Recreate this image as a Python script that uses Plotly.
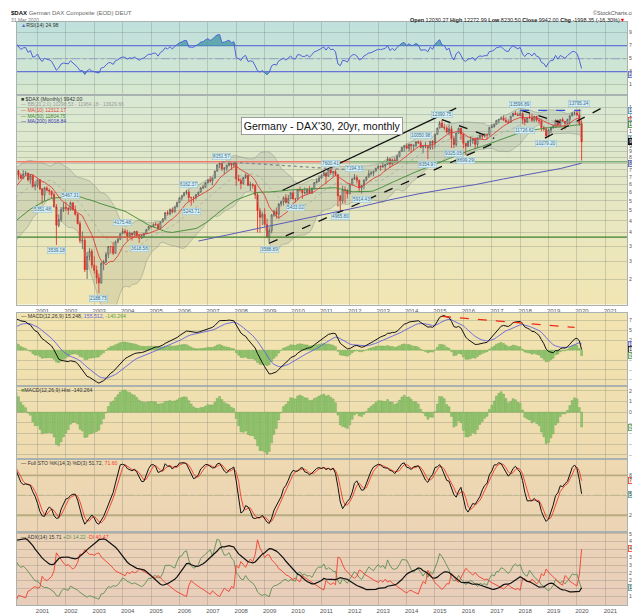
import numpy as np
import pandas as pd
import plotly.graph_objects as go
from plotly.subplots import make_subplots

# ---- $DAX monthly, Apr 2000 .. Mar 2020 (rounded) ----
first_month = "2000-04-01"
close = [
    7414.68, 7109.67, 6898.21, 7189.49, 7243.29, 6798.12, 7077.44, 6372.33, 6433.61,
    6795.14, 6208.24, 5829.95, 6264.51, 6123.38, 6058.38, 5861.19, 5188.21, 4308.15, 4559.13, 5039.86, 5160.10,
    5107.61, 5039.35, 5397.29, 5041.16, 4818.07, 4382.56, 3700.14, 3712.94, 2769.03, 3152.85, 3320.32, 2892.63,
    2747.83, 2547.05, 2423.87, 2942.04, 2982.68, 3220.58, 3487.86, 3484.58, 3256.78, 3655.99, 3745.95, 3965.16,
    4058.60, 4018.16, 3856.70, 3985.21, 3921.41, 4052.73, 3895.61, 3785.21, 3892.90, 3960.25, 4126.00, 4256.08,
    4254.85, 4350.49, 4348.77, 4184.84, 4460.63, 4586.28, 4886.50, 4829.69, 5044.12, 4929.07, 5193.40, 5408.26,
    5674.15, 5796.04, 5970.08, 6009.89, 5692.86, 5683.31, 5681.97, 5859.57, 6004.33, 6268.92, 6309.19, 6596.92,
    6789.11, 6715.44, 6917.03, 7408.87, 7883.04, 8007.32, 7584.14, 7638.17, 7861.51, 8019.22, 7870.52, 8067.32,
    6851.75, 6748.13, 6534.97, 6948.82, 7096.79, 6418.32, 6479.56, 6422.30, 5831.02, 4987.97, 4669.44, 4810.20,
    4338.35, 3843.74, 4084.76, 4769.45, 4940.82, 4808.64, 5332.14, 5464.61, 5675.16, 5414.96, 5625.95, 5957.43,
    5608.79, 5598.46, 6153.55, 6135.70, 5964.33, 5965.52, 6147.97, 5925.22, 6229.02, 6601.37, 6688.49, 6914.19,
    7077.48, 7272.32, 7041.31, 7514.46, 7293.69, 7376.24, 7158.77, 5784.85, 5502.02, 6141.34, 6088.84, 5898.35,
    6458.91, 6856.08, 6946.83, 6761.19, 6264.38, 6416.28, 6772.26, 6970.79, 7216.15, 7260.63, 7405.50, 7612.39,
    7776.05, 7741.70, 7795.31, 7913.71, 8348.84, 7959.22, 8275.97, 8103.15, 8594.40, 9033.92, 9405.30, 9552.16,
    9306.48, 9692.08, 9555.91, 9603.23, 9943.27, 9833.07, 9407.48, 9470.17, 9474.30, 9326.87, 9980.85, 9805.55,
    10694.32, 11401.66, 11966.17, 11454.38, 11413.82, 10944.97, 11308.99, 10259.46, 9660.44, 10850.14, 11382.23, 10743.01,
    9798.11, 9495.40, 9965.51, 10038.97, 10262.74, 9680.09, 10337.50, 10592.69, 10511.02, 10665.01, 10640.30, 11481.06,
    11535.31, 11834.41, 12312.87, 12438.01, 12615.06, 12325.12, 12118.25, 12055.84, 12828.86, 13229.57, 13023.98, 12917.64,
    13189.48, 12435.85, 12096.73, 12612.11, 12604.89, 12306.00, 12805.50, 12364.06, 12246.73, 11447.51, 11257.24, 10558.96,
    11173.10, 11515.64, 11526.04, 12344.08, 11726.84, 12398.80, 12189.04, 11939.28, 12428.08, 12866.79, 13236.38, 13249.01,
    12981.97, 11940.35, 9942.00,
]
high = [
    7800, 7500, 7250, 7480, 7430, 7320, 7190, 7180, 6700,
    6800, 6850, 6250, 6320, 6370, 6230, 6100, 5980, 5330, 4800, 5170, 5420,
    5440, 5160, 5467.31, 5420, 5250, 4840, 4490, 4050, 3800, 3300, 3430, 3400,
    3160, 2880, 2660, 2990, 3050, 3300, 3500, 3500, 3650, 3700, 3800, 3980,
    4175.48, 4160, 4120, 4050, 4000, 4070, 4080, 3920, 3920, 4000, 4140, 4270,
    4290, 4390, 4440, 4400, 4470, 4630, 4920, 5000, 5100, 5150, 5200, 5460,
    5690, 5810, 6000, 6140, 6162.37, 5730, 5760, 5880, 6020, 6290, 6440, 6630,
    6820, 7040, 6940, 7430, 7920, 8090, 8151.57, 7700, 7900, 8100, 8050, 8100,
    8100, 7150, 6900, 6960, 7230, 7130, 6660, 6560, 6480, 6000, 5120, 4940,
    5110, 4600, 4220, 4820, 5040, 5150, 5380, 5510, 5760, 5890, 5840, 6026.69,
    6094.75, 5660, 6200, 6340, 6160, 6290, 6250, 6390, 6300, 6630, 6900, 7100,
    7180, 7440, 7310, 7530, 7600.41, 7400, 7520, 7200, 5840, 6400, 6370, 6200,
    6550, 6900, 7194.33, 7100, 6800, 6440, 6800, 7040, 7480, 7440, 7420, 7670,
    7870, 7860, 8075, 7950, 8557.86, 8470, 8400, 8490, 8730, 9050, 9420, 9620,
    9790, 9730, 9720, 9650, 9950, 10050, 10050.98, 9550, 9890, 9500, 10000, 10090,
    10810, 11420, 12220, 12390.75, 11920, 11620, 11800, 11670, 10550, 10880, 11430, 11400,
    10750, 9810, 10100, 10480, 10330, 10380, 10380, 10750, 10690, 10830, 10810, 11490,
    11890, 11890, 12320, 12480, 12840, 12950, 12680, 12430, 12830, 13240, 13526, 13290,
    13596.89, 13340, 12600, 12650, 13200, 13170, 12860, 12880, 12470, 12390, 11640, 11500,
    11270, 11540, 11820, 12400, 12370, 12440, 12650, 12200, 12500, 12960, 13370, 13430,
    13640, 13795.24, 12272.99,
]
low = [
    7150, 6800, 6850, 6870, 7080, 6670, 6530, 6270, 6110,
    6280, 6120, 5351.48, 5500, 6050, 5830, 5650, 5150, 3539.18, 4230, 4460, 4920,
    4960, 4790, 5000, 4990, 4750, 4350, 3600, 3400, 2700, 2520, 3030, 2800,
    2660, 2400, 2188.75, 2400, 2750, 2950, 3100, 3250, 3200, 3250, 3600, 3730,
    3950, 3930, 3690, 3850, 3700, 3900, 3800, 3618.58, 3760, 3820, 3950, 4100,
    4180, 4230, 4280, 4150, 4170, 4430, 4560, 4750, 4760, 4850, 4900, 5150,
    5400, 5520, 5750, 5860, 5470, 5243.71, 5400, 5580, 5790, 5970, 6190, 6260,
    6530, 6600, 6437, 6880, 7380, 7630, 7420, 7190, 7400, 7760, 7500, 7700,
    6380, 6690, 6180, 6480, 6860, 6410, 6080, 6220, 5600, 4010, 4000, 4310,
    4260, 3800, 3588.89, 3980, 4690, 4600, 4580, 5200, 5250, 5370, 5300, 5600,
    5580, 5433.02, 5560, 6030, 5607.70, 5870, 5860, 5900, 5920, 6150, 6550, 6650,
    6850, 7050, 6500, 7000, 7150, 7000, 7050, 5190, 4965.80, 5350, 5370, 5630,
    5890, 6440, 6780, 6540, 6000, 5914.43, 6170, 6700, 6960, 7080, 7060, 7400,
    7600, 7420, 7660, 7420, 7880, 7655.88, 7840, 8060, 8080, 8540, 8980, 9000,
    9230, 9020, 8900, 9120, 9420, 9730, 9300, 8900, 9300, 8354.97, 9170, 9220,
    9380, 10650, 11400, 11420, 11160, 10800, 10600, 9338.20, 9325.05, 9470, 10760, 10120,
    9310, 8699.29, 9450, 9480, 9720, 9210, 9370, 10120, 10170, 10370, 10170, 10580,
    11380, 11460, 11800, 11940, 12380, 12320, 12070, 11870, 12000, 12800, 12980, 12860,
    12870, 11870, 11726.62, 12000, 12550, 12100, 12100, 12120, 11860, 11050, 11050, 10279.20,
    10390, 10860, 11300, 11500, 11620, 11640, 12100, 11266, 11850, 11780, 12830, 12930,
    12910, 11700, 8230.50,
]

# earlier months, only to warm up the indicators (not drawn)
warm_close = [  # Jan 1996 .. Mar 2000
    2403, 2400, 2486, 2473, 2502, 2544, 2452, 2484, 2586, 2658, 2746, 2889,
    3030, 3186, 3299, 3475, 3600, 3750, 4293, 3986, 4169, 3710, 3964, 4250,
    4442, 4710, 5096, 5107, 5568, 5897, 5902, 4834, 4475, 4671, 5016, 5002,
    5149, 4888, 4884, 5393, 5225, 5378, 5137, 5267, 5150, 5526, 6156, 6958,
    6836, 7645, 7599,
]
warm_high = [  # Jan 1998 .. Mar 2000
    4500, 4760, 5130, 5280, 5600, 5950, 6217, 5950, 5080, 4800, 5300, 5200,
    5290, 5190, 5060, 5460, 5450, 5500, 5500, 5400, 5480, 5560, 6200, 6990,
    7170, 7700, 8136,
]
warm_low = [
    4100, 4400, 4700, 4980, 5050, 5500, 5800, 4700, 3900, 3840, 4600, 4740,
    4790, 4740, 4650, 4880, 5120, 5100, 5080, 5020, 5030, 5060, 5480, 6050,
    6380, 6760, 7200,
]

# MA(200)
ma200_dates = ["2006-09-01", "2007-06-01", "2008-06-01", "2009-06-01", "2010-06-01", "2011-06-01",
               "2012-06-01", "2013-06-01", "2014-06-01", "2015-06-01", "2016-06-01", "2017-06-01",
               "2018-06-01", "2019-06-01", "2020-03-01"]
ma200_vals = [3680, 3850, 4100, 4330, 4600, 4880, 5200, 5560, 5900, 6200, 6470, 6850, 7200, 7600, 8018.84]

# annotated highs / lows
peak_labels = [
    ("2001-03-01", 5351.48, "lo"), ("2001-09-01", 3539.18, "lo"), ("2002-03-01", 5467.31, "hi"),
    ("2003-03-01", 2188.75, "lo"), ("2004-01-01", 4175.48, "hi"), ("2004-08-01", 3618.58, "lo"),
    ("2006-05-01", 6162.37, "hi"), ("2006-06-01", 5243.71, "lo"), ("2007-07-01", 8151.57, "hi"),
    ("2009-03-01", 3588.89, "lo"), ("2010-02-01", 5433.02, "lo"), ("2011-05-01", 7600.41, "hi"),
    ("2011-09-01", 4965.80, "lo"), ("2012-03-01", 7194.33, "hi"), ("2012-06-01", 5914.43, "lo"),
    ("2014-07-01", 10050.98, "hi"), ("2014-10-01", 8354.97, "lo"), ("2015-04-01", 12390.75, "hi"),
    ("2015-09-01", 9325.05, "lo"), ("2016-02-01", 8699.29, "lo"), ("2018-01-01", 13596.89, "hi"),
    ("2018-03-01", 11726.62, "lo"), ("2018-12-01", 10279.20, "lo"), ("2020-02-01", 13795.24, "hi"),
]

# hand drawn lines on the price panel: start, end, colour, dash
trend_lines = [
    ("2009-08-20", 6120, "2015-10-01", 13900, "#111111", "solid"),
    ("2009-03-01", 3600, "2017-02-01", 9800, "#111111", "dash"),
    ("2015-04-01", 12400, "2017-02-01", 10280, "#111111", "dash"),
    ("2018-01-15", 13600, "2019-06-01", 12050, "#111111", "dash"),
    ("2018-11-15", 10300, "2020-12-15", 14100, "#111111", "dash"),
    ("2018-01-01", 13600, "2020-02-15", 13600, "#3050e0", "dash"),
    ("2007-07-01", 8150, "2012-06-01", 7450, "#888888", "dot"),
]
resist_level = 8136
resist_split = "2012-01-01"
support_level = 3830
support_red = ("2002-07-01", "2004-09-01")
macd_trend = ("2015-04-01", 860, "2019-12-01", 580)

rsi_levels = [30, 50, 70]
sto_levels = [20, 50, 80]
price_ticks = [2500, 3000, 3500, 4000, 4500, 5000, 5500, 6000, 6500, 7000, 7500, 8000, 8500,
               9000, 9500, 10000, 11000, 12000, 13000, 14000]
years = list(range(2001, 2022))
x_range = ["2000-04-12", "2021-10-06"]

assert len(close) == len(high) == len(low) == 240

# ---- indicators ----
c_all = pd.Series(warm_close + close, dtype=float,
                  index=pd.date_range("1996-01-01", periods=len(warm_close) + len(close), freq="MS"))
hl_idx = pd.date_range("1998-01-01", periods=len(warm_high) + len(high), freq="MS")
h_all = pd.Series(warm_high + high, index=hl_idx, dtype=float)
l_all = pd.Series(warm_low + low, index=hl_idx, dtype=float)
c_hl = c_all[hl_idx]

ma10 = c_all.rolling(10).mean()
ma50 = c_all.rolling(50).mean()
bb_mid = c_all.rolling(20).mean()
bb_sd = c_all.rolling(20).std(ddof=0)
bb_up, bb_lo = bb_mid + 2 * bb_sd, bb_mid - 2 * bb_sd

d = c_all.diff()
gain = d.clip(lower=0).ewm(alpha=1 / 14, adjust=False).mean()
loss = (-d.clip(upper=0)).ewm(alpha=1 / 14, adjust=False).mean()
rsi = 100 - 100 / (1 + gain / loss)

macd = c_all.ewm(span=12, adjust=False).mean() - c_all.ewm(span=26, adjust=False).mean()
signal = macd.ewm(span=9, adjust=False).mean()
hist = macd - signal

ll = l_all.rolling(14).min()
hh = h_all.rolling(14).max()
sto_k = (100 * (c_hl - ll) / (hh - ll)).rolling(3).mean()
sto_d = sto_k.rolling(3).mean()

pc = c_hl.shift()
tr = pd.concat([h_all - l_all, (h_all - pc).abs(), (l_all - pc).abs()], axis=1).max(axis=1)
upm = h_all.diff()
dnm = -l_all.diff()
pdm = pd.Series(np.where((upm > dnm) & (upm > 0), upm, 0.0), index=hl_idx)
ndm = pd.Series(np.where((dnm > upm) & (dnm > 0), dnm, 0.0), index=hl_idx)
atr = tr.ewm(alpha=1 / 14, adjust=False).mean()
pdi = 100 * pdm.ewm(alpha=1 / 14, adjust=False).mean() / atr
ndi = 100 * ndm.ewm(alpha=1 / 14, adjust=False).mean() / atr
dx = 100 * (pdi - ndi).abs() / (pdi + ndi)
adx = dx.ewm(alpha=1 / 14, adjust=False).mean()

dates = pd.date_range(first_month, periods=len(close), freq="MS")
opn = c_all.shift(1)[dates]


def v(s):
    return s[dates].values


# ---- figure ----
fig = make_subplots(rows=6, cols=1, shared_xaxes=True, vertical_spacing=0)
FONT = "Liberation Sans, Arial, sans-serif"
GRID = "rgba(110,120,110,0.28)"
BORDER = "#a9b1b1"
domains = [(0.8757, 1.0), (0.5153, 0.8737), (0.3763, 0.5012),
           (0.2512, 0.3754), (0.1254, 0.2505), (0.0, 0.1246)]
backgrounds = [("#bfe0dc", "#d6e8cf"), ("#d9e8d3", "#f1e6b3"), ("#f2e4b1", "#f0e0af"),
               ("#f0e0b0", "#eedbb0"), ("#eed9b2", "#ecd4b4"), ("#ecd3b6", "#e9cdbb")]


def hex_rgb(h):
    h = h.lstrip("#")
    return [int(h[i:i + 2], 16) for i in (0, 2, 4)]


for (y0, y1), (top, bot) in zip(domains, backgrounds):
    a, b = hex_rgb(top), hex_rgb(bot)
    n = 20
    for i in range(n):
        f = i / (n - 1)
        col = "rgb({},{},{})".format(*[round(a[k] + (b[k] - a[k]) * f) for k in range(3)])
        ya = y1 - (y1 - y0) * i / n
        yb = y1 - (y1 - y0) * (i + 1) / n
        fig.add_shape(type="rect", xref="paper", yref="paper", x0=0, x1=1,
                      y0=max(y0, yb - 0.002), y1=ya, fillcolor=col, line_width=0, layer="below")

xe = [x_range[0], x_range[1]]

# RSI panel
for lv in rsi_levels:
    fig.add_trace(go.Scatter(x=xe, y=[lv, lv], mode="lines",
                             line=dict(color="#6676d6" if lv != 50 else "#97a0c8",
                                       width=1.3 if lv != 50 else 1,
                                       dash="solid" if lv != 50 else "dashdot")), row=1, col=1)
fig.add_trace(go.Scatter(x=dates, y=[70] * len(dates), mode="lines", line=dict(width=0)), row=1, col=1)
fig.add_trace(go.Scatter(x=dates, y=np.maximum(v(rsi), 70), mode="lines", line=dict(width=0),
                         fill="tonexty", fillcolor="rgba(60,150,160,0.75)"), row=1, col=1)
fig.add_trace(go.Scatter(x=dates, y=[30] * len(dates), mode="lines", line=dict(width=0)), row=1, col=1)
fig.add_trace(go.Scatter(x=dates, y=np.minimum(v(rsi), 30), mode="lines", line=dict(width=0),
                         fill="tonexty", fillcolor="rgba(60,150,160,0.75)"), row=1, col=1)
fig.add_trace(go.Scatter(x=dates, y=v(rsi), mode="lines", line=dict(color="#4f62d8", width=1)), row=1, col=1)

# price panel
fig.add_trace(go.Scatter(x=dates, y=v(bb_lo), mode="lines",
                         line=dict(color="rgba(140,150,140,0.7)", width=0.7)), row=2, col=1)
fig.add_trace(go.Scatter(x=dates, y=v(bb_up), mode="lines", fill="tonexty",
                         fillcolor="rgba(120,130,120,0.17)",
                         line=dict(color="rgba(140,150,140,0.7)", width=0.7)), row=2, col=1)
fig.add_trace(go.Scatter(x=dates, y=v(bb_mid), mode="lines",
                         line=dict(color="rgba(120,130,120,0.6)", width=0.6, dash="dot")), row=2, col=1)
fig.add_trace(go.Scatter(x=[x_range[0], resist_split], y=[resist_level] * 2, mode="lines",
                         line=dict(color="#f07a6c", width=1.6)), row=2, col=1)
fig.add_trace(go.Scatter(x=[resist_split, x_range[1]], y=[resist_level] * 2, mode="lines",
                         line=dict(color="#7fae78", width=1.6)), row=2, col=1)
fig.add_trace(go.Scatter(x=xe, y=[support_level] * 2, mode="lines",
                         line=dict(color="#3f7f2e", width=1.4)), row=2, col=1)
fig.add_trace(go.Scatter(x=list(support_red), y=[support_level] * 2, mode="lines",
                         line=dict(color="#f05a4c", width=1.2)), row=2, col=1)
fig.add_trace(go.Scatter(x=ma200_dates, y=ma200_vals, mode="lines",
                         line=dict(color="#5a5ab8", width=1)), row=2, col=1)
fig.add_trace(go.Scatter(x=dates, y=v(ma50), mode="lines", line=dict(color="#3e8a34", width=0.9)), row=2, col=1)
fig.add_trace(go.Scatter(x=dates, y=v(ma10), mode="lines", line=dict(color="#e0403a", width=0.9)), row=2, col=1)
for d0, v0, d1, v1, col, dash in trend_lines:
    fig.add_trace(go.Scatter(x=[d0, d1], y=[v0, v1], mode="lines",
                             line=dict(color=col, width=1.3, dash=dash)), row=2, col=1)
fig.add_trace(go.Candlestick(x=dates, open=opn.values, high=high, low=low, close=close,
                             whiskerwidth=0,
                             increasing=dict(line=dict(color="#555555", width=0.8),
                                             fillcolor="rgba(245,245,240,0.8)"),
                             decreasing=dict(line=dict(color="#e8221a", width=0.8),
                                             fillcolor="#e8221a")), row=2, col=1)

# MACD panel
fig.add_trace(go.Bar(x=dates, y=v(hist), marker=dict(color="#93c96f", line=dict(color="#62a048", width=0.4))),
              row=3, col=1)
fig.add_trace(go.Scatter(x=dates, y=v(signal), mode="lines", line=dict(color="#6464e0", width=0.9)), row=3, col=1)
fig.add_trace(go.Scatter(x=dates, y=v(macd), mode="lines", line=dict(color="#111111", width=1)), row=3, col=1)
fig.add_trace(go.Scatter(x=[macd_trend[0], macd_trend[2]], y=[macd_trend[1], macd_trend[3]], mode="lines",
                         line=dict(color="#ee2a1a", width=1.3, dash="dash")), row=3, col=1)

# MACD histogram panel
fig.add_trace(go.Bar(x=dates, y=v(hist), marker=dict(color="#93c96f", line=dict(color="#62a048", width=0.4))),
              row=4, col=1)

# Full STO panel
for lv in sto_levels:
    fig.add_trace(go.Scatter(x=xe, y=[lv, lv], mode="lines",
                             line=dict(color="#b7ab80" if lv != 50 else "#c2b68a",
                                       width=1.8 if lv != 50 else 1.2,
                                       dash="solid" if lv != 50 else "dashdot")), row=5, col=1)
fig.add_trace(go.Scatter(x=dates, y=v(sto_d), mode="lines", line=dict(color="#f03a2a", width=0.9)), row=5, col=1)
fig.add_trace(go.Scatter(x=dates, y=v(sto_k), mode="lines", line=dict(color="#111111", width=1)), row=5, col=1)

# ADX panel
fig.add_trace(go.Scatter(x=dates, y=v(pdi), mode="lines", line=dict(color="#5b8f55", width=0.9)), row=6, col=1)
fig.add_trace(go.Scatter(x=dates, y=v(ndi), mode="lines", line=dict(color="#f04030", width=0.9)), row=6, col=1)
fig.add_trace(go.Scatter(x=dates, y=v(adx), mode="lines", line=dict(color="#111111", width=1.2)), row=6, col=1)

# ---- axes ----
yaxes = [
    dict(range=[-5, 106.5], tickvals=[10, 30, 50, 70, 90]),
    dict(type="log", range=[3.29, 4.1976], tickvals=price_ticks),
    dict(range=[-900, 950], tickvals=[-750, -500, -250, 250, 500, 750]),
    dict(range=[-435, 245], tickvals=[-400, -300, -200, -100, 0, 100, 200]),
    dict(range=[-5, 104.5], tickvals=[20, 50, 80]),
    dict(range=[4.3, 51], tickvals=[10, 15, 20, 25, 30, 35, 40, 45, 50]),
]
for i, (ya, dom) in enumerate(zip(yaxes, domains), start=1):
    fig.update_yaxes(row=i, col=1, domain=list(dom), side="right", showgrid=True, gridcolor=GRID,
                     gridwidth=0.7, zeroline=False, showline=True, mirror=True, linecolor=BORDER,
                     linewidth=1, ticks="", tickfont=dict(size=5, color="#555", family=FONT), **ya)
    fig.update_xaxes(row=i, col=1, range=x_range, showgrid=True, gridcolor=GRID, gridwidth=0.7,
                     tickvals=[f"{y}-01-01" for y in years], ticktext=[str(y) for y in years],
                     showline=True, mirror=True, linecolor=BORDER, linewidth=1, ticks="",
                     rangeslider_visible=False, ticklabelshift=5,
                     tickfont=dict(size=6, color="#555", family=FONT))
fig.update_xaxes(row=2, col=1, showticklabels=True)


# ---- text ----
def py(p):
    return (604 - p) / 590


def px(p):
    return (p - 8) / 617


ann = []


def text(x, y, s, size=5.2, color="#333", xanchor="left", **kw):
    ann.append(dict(x=x, y=y, xref="paper", yref="paper", text=s, showarrow=False, xanchor=xanchor,
                    yanchor="middle", font=dict(size=size, color=color, family=FONT), **kw))


text(px(0), py(5), "<b>$DAX</b> <span style='color:#666'>German DAX Composite (EOD) DEUT</span>", size=6, color="#111")
text(px(0), py(11.5), "31 Mar 2020", size=5, color="#777")
text(px(639), py(5), "©StockCharts.com", size=5.5, color="#555", xanchor="right")
text(px(625), py(11.5), "<b>Open</b> 12030.27 <b>High</b> 12272.99 <b>Low</b> 8230.50 <b>Close</b> 9942.00 "
     "<b>Chg</b> -1998.35 (-16.30%)<span style='color:#e00'>▼</span>", size=5.5, color="#222", xanchor="right")

text(px(10), py(17.3), "<span style='color:#4f62d8'>▲</span>RSI(14) 24.98", size=5.2)
text(px(10), py(91.7), "■ $DAX (Monthly) 9942.00", size=5.2)
text(px(10), py(97.3), "<span style='color:#999'>— BB(20,2.0) 10298.53 - 11964.18 - 13629.66</span>", size=5)
text(px(10), py(103.3), "<span style='color:#e0403a'>— MA(10) 12312.17</span>", size=5)
text(px(10), py(109), "<span style='color:#3e8a34'>— MA(50) 11804.75</span>", size=5)
text(px(10), py(114.3), "<span style='color:#3a3ab0'>— MA(200) 8018.84</span>", size=5)
text(px(10), py(312), "— MACD(12,26,9) 15.248, <span style='color:#6464e0'>155.512</span>, "
     "<span style='color:#5fa048'>-140.264</span>", size=5.2)
text(px(10), py(386.5), "<span style='color:#5fa048'>■</span>MACD(12,26,9) Hist -140.264", size=5.2)
text(px(10), py(460.5), "— Full STO %K(14,3) %D(3) 51.72, <span style='color:#f03a2a'>71.60</span>", size=5.2)
text(px(10), py(535), "— ADX(14) 15.71 <span style='color:#5b8f55'>+DI 14.22</span> "
     "<span style='color:#f04030'>-DI 40.47</span>", size=5.2)

ann.append(dict(x=px(316), y=py(110.5), xref="paper", yref="paper", text="Germany - DAX'30, 20yr, monthly",
                showarrow=False, font=dict(size=10.5, color="#111", family=FONT), bgcolor="white",
                bordercolor="#888", borderwidth=0.8, borderpad=2))

for dt, val, side in peak_labels:
    ann.append(dict(x=dt, y=np.log10(val), xref="x2", yref="y2", text=f"{val:.2f}", showarrow=False,
                    yanchor="bottom" if side == "hi" else "top", yshift=2 if side == "hi" else -2,
                    font=dict(size=4.6, color="#3b6b7e", family=FONT), bgcolor="#d6eef6",
                    bordercolor="#94bccb", borderwidth=0.5, borderpad=0.6))


def tag(yref, y, s, bg, border, color="#234"):
    ann.append(dict(x=1, y=y, xref="paper", yref=yref, text=s, showarrow=False, xanchor="left",
                    yanchor="middle", xshift=1, font=dict(size=4.6, color=color, family=FONT), bgcolor=bg,
                    bordercolor=border, borderwidth=0.8, borderpad=0.4))


tag("y", 24.98, "24.98", "#dde8f8", "#5566d6")
tag("y2", np.log10(13629.66), "13629.66", "#d6eef6", "#5c8fd0")
tag("y2", np.log10(12312.17), "12312.17", "#fbeee8", "#e0403a")
tag("y2", np.log10(11964.18), "11964.18", "#d6eef6", "#80a8b8")
tag("y2", np.log10(11804.75), "11804.75", "#e6f2dc", "#3e8a34")
tag("y2", np.log10(10298.53), "10298.53", "#d6eef6", "#80a8b8")
tag("y2", np.log10(9942.00), "9942.00", "#222222", "#000000", color="white")
tag("y2", np.log10(8018.84), "8018.84", "#d6e4f6", "#5a5ab8")
tag("y3", 155.512, "155.512", "#dde3fa", "#6464e0")
tag("y3", 15.248, "15.248", "#eeeeee", "#111111")
tag("y3", -140.264, "-140.264", "#cfe9e6", "#62a048")
tag("y4", -140.264, "-140.264", "#cfe9e6", "#62a048")
tag("y5", 71.60, "71.60", "#fbeee8", "#f03a2a")
tag("y5", 51.72, "51.72", "#cfe9e6", "#6a9aa0")
tag("y6", 40.47, "40.47", "#fbeee8", "#f04030")
tag("y6", 15.71, "15.71", "#cfe9e6", "#6a9aa0")

fig.update_layout(width=640, height=614, margin=dict(l=8, r=15, t=14, b=10),
                  paper_bgcolor="white", plot_bgcolor="rgba(0,0,0,0)", showlegend=False,
                  bargap=0.15, annotations=ann, font=dict(family=FONT))

fig.write_html("out.html")
